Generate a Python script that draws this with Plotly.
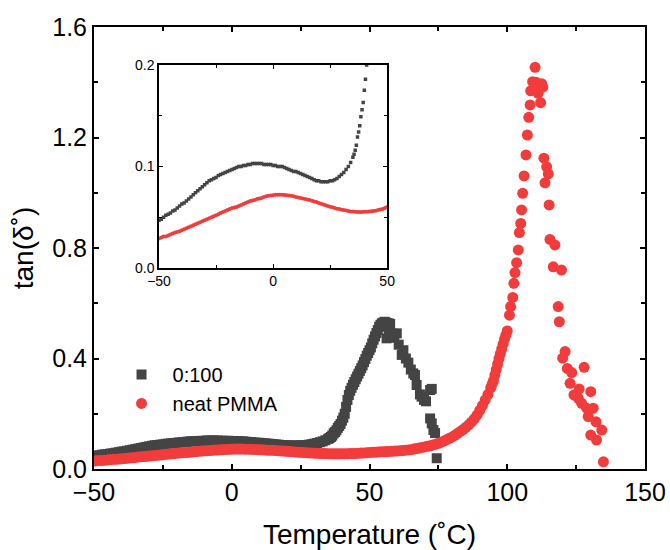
import plotly.graph_objects as go

# ---- data ----
black_T = [-50, -49, -48, -47, -46, -45, -44, -43, -42, -41, -40, -39, -38, -37, -36, -35,
           -34, -33, -32, -31, -30, -29, -28, -27, -26, -25, -24, -23, -22, -21, -20, -19,
           -18, -17, -16, -15, -14, -13, -12, -11, -10, -9, -8, -7, -6, -5, -4, -3, -2, -1,
           0, 1, 2, 3, 4, 5, 6, 7, 8, 9, 10, 11, 12, 13, 14, 15, 16, 17, 18, 19, 20, 21, 22,
           23, 24, 25, 26, 27, 28, 29, 30, 31, 32, 33, 34, 35, 35.5, 36, 36.5, 37, 37.5, 38,
           38.5, 39, 39.5, 40, 40.5, 41, 41.5, 42, 42.5, 43, 43.5, 44, 44.5, 45, 45.5, 46,
           46.5, 47, 47.5, 48, 48.5, 49, 49.5, 50, 50.5, 51, 51.5, 52, 52.5, 53, 53.5, 54,
           54.5, 55, 55.5, 56, 56.5, 57, 57.5,
           56.2, 57.0, 58.5, 59.9, 59.0, 60.6, 61.7, 62.3, 63.2, 64.1, 65.0, 65.9, 66.5, 67.1,
           68.3, 68.9, 69.8, 70.5, 72.0, 72.6, 72.0, 72.6, 73.2, 73.8, 74.4]
black_V = [0.047, 0.048, 0.050, 0.052, 0.053, 0.054, 0.056, 0.057, 0.059, 0.061, 0.063, 0.064,
           0.066, 0.068, 0.070, 0.072, 0.074, 0.076, 0.078, 0.080, 0.082, 0.084, 0.086, 0.087,
           0.088, 0.089, 0.091, 0.092, 0.093, 0.094, 0.095, 0.096, 0.097, 0.098, 0.099, 0.100,
           0.100, 0.101, 0.101, 0.102, 0.102, 0.103, 0.103, 0.103, 0.103, 0.103, 0.102, 0.102,
           0.102, 0.102, 0.101, 0.101, 0.100, 0.100, 0.100, 0.099, 0.098, 0.097, 0.096, 0.095,
           0.095, 0.094, 0.093, 0.092, 0.091, 0.090, 0.089, 0.088, 0.087, 0.086, 0.086, 0.085,
           0.085, 0.085, 0.085, 0.086, 0.086, 0.087, 0.088, 0.090, 0.092, 0.094, 0.097, 0.100,
           0.104, 0.109, 0.112, 0.116, 0.121, 0.129, 0.134, 0.140, 0.149, 0.156, 0.163, 0.175,
           0.186, 0.200, 0.225, 0.250, 0.268, 0.283, 0.294, 0.305, 0.315, 0.325, 0.335, 0.345,
           0.355, 0.365, 0.375, 0.387, 0.398, 0.410, 0.420, 0.430, 0.440, 0.455, 0.468, 0.480,
           0.492, 0.503, 0.515, 0.522, 0.527, 0.530, 0.533, 0.530, 0.528, 0.527, 0.525,
           0.473, 0.500, 0.490, 0.491, 0.475, 0.450, 0.413, 0.430, 0.400, 0.385, 0.360, 0.346,
           0.340, 0.304, 0.270, 0.262, 0.250, 0.245, 0.286, 0.290, 0.183, 0.165, 0.141, 0.130,
           0.039]

red_T = [-50, -49, -48, -47, -46, -45, -44, -43, -42, -41, -40, -39, -38, -37, -36, -35, -34,
         -33, -32, -31, -30, -29, -28, -27, -26, -25, -24, -23, -22, -21, -20, -19, -18, -17,
         -16, -15, -14, -13, -12, -11, -10, -9, -8, -7, -6, -5, -4, -3, -2, -1, 0, 1, 2, 3, 4,
         5, 6, 7, 8, 9, 10, 11, 12, 13, 14, 15, 16, 17, 18, 19, 20, 21, 22, 23, 24, 25, 26, 27,
         28, 29, 30, 31, 32, 33, 34, 35, 36, 37, 38, 39, 40, 41, 42, 43, 44, 45, 46, 47, 48, 49,
         50, 51, 52, 53, 54, 55, 56, 57, 58, 59, 60, 61, 62, 63, 64, 65, 66, 67, 68, 69, 70, 71,
         72, 73, 74, 75, 76, 77, 78, 79, 80, 81, 82, 83, 84, 85, 86, 87, 88, 89, 90, 91, 92, 93,
         94, 94.5, 95, 95.5, 96, 96.5, 97, 97.5, 98, 98.5, 99, 99.5, 100,
         100.8, 101.2, 102.0, 102.4, 102.8, 103.4, 104.0, 104.4, 104.9, 105.2, 105.6, 106.1,
         106.8, 107.3, 107.8, 108.3, 108.5, 109.2, 110.1, 110.4, 110.7, 111.2, 111.5, 111.9,
         112.5, 112.9, 112.1, 113.3, 114.3, 114.9, 113.7, 115.2, 115.5, 117.3, 116.7, 119.7,
         118.5, 118.9, 121.0, 120.1, 121.8, 123.4, 122.8, 127.9, 124.2, 125.8, 126.1, 127.0,
         128.8, 130.3, 131.2, 129.4, 132.2, 134.3, 130.3, 132.4, 134.9]
red_V = [0.029, 0.030, 0.031, 0.031, 0.032, 0.033, 0.034, 0.035, 0.0355, 0.036, 0.037, 0.038,
         0.039, 0.040, 0.041, 0.042, 0.043, 0.044, 0.045, 0.046, 0.047, 0.048, 0.049, 0.050,
         0.051, 0.052, 0.053, 0.054, 0.055, 0.056, 0.057, 0.058, 0.059, 0.0595, 0.060, 0.061,
         0.062, 0.063, 0.064, 0.065, 0.066, 0.0665, 0.067, 0.068, 0.0685, 0.069, 0.070, 0.0705,
         0.071, 0.0713, 0.0716, 0.072, 0.072, 0.072, 0.072, 0.0718, 0.0716, 0.0714, 0.071,
         0.0705, 0.070, 0.0695, 0.069, 0.0683, 0.068, 0.0675, 0.067, 0.0663, 0.0655, 0.065,
         0.064, 0.0633, 0.0625, 0.0617, 0.061, 0.0603, 0.0597, 0.059, 0.0583, 0.058, 0.0573,
         0.057, 0.0565, 0.056, 0.0557, 0.0555, 0.0553, 0.0552, 0.0551, 0.0552, 0.0553, 0.0554,
         0.0556, 0.0558, 0.056, 0.0563, 0.057, 0.0575, 0.058, 0.059, 0.060, 0.0605, 0.061,
         0.0615, 0.062, 0.0625, 0.063, 0.0635, 0.064, 0.065, 0.0655, 0.066, 0.067, 0.068,
         0.069, 0.070, 0.072, 0.074, 0.076, 0.078, 0.080, 0.082, 0.084, 0.087, 0.090, 0.093,
         0.097, 0.101, 0.106, 0.111, 0.116, 0.122, 0.129, 0.136, 0.143, 0.151, 0.160, 0.170,
         0.181, 0.195, 0.212, 0.230, 0.250, 0.270, 0.294, 0.307, 0.320, 0.340, 0.360, 0.380,
         0.400, 0.418, 0.435, 0.452, 0.470, 0.485, 0.500,
         0.557, 0.588, 0.621, 0.672, 0.711, 0.747, 0.793, 0.856, 0.889, 0.938, 0.998, 1.061,
         1.137, 1.209, 1.273, 1.318, 1.369, 1.402, 1.454, 1.400, 1.384, 1.360, 1.375, 1.390,
         1.395, 1.382, 1.326, 1.125, 1.094, 1.068, 1.036, 0.956, 0.831, 0.811, 0.732, 0.720,
         0.588, 0.533, 0.425, 0.401, 0.364, 0.349, 0.310, 0.368, 0.268, 0.256, 0.290, 0.238,
         0.220, 0.280, 0.220, 0.190, 0.171, 0.141, 0.123, 0.105, 0.026]

name_black = "0:100"
name_red = "neat PMMA"
x_title = "Temperature (˚C)"
y_title = "tan(δ˚)"

BLACK = "#444444"
RED = "#f23c3c"
FONT = "Liberation Sans, Arial, sans-serif"

fig = go.Figure()
fig.add_trace(go.Scatter(x=black_T, y=black_V, mode="markers", name=name_black,
                         marker=dict(symbol="square", size=10, color=BLACK),
                         xaxis="x", yaxis="y"))
fig.add_trace(go.Scatter(x=red_T, y=red_V, mode="markers", name=name_red,
                         marker=dict(symbol="circle", size=11, color=RED),
                         xaxis="x", yaxis="y"))
# inset
fig.add_trace(go.Scatter(x=black_T, y=black_V, mode="markers", showlegend=False,
                         marker=dict(symbol="square", size=3.5, color=BLACK),
                         xaxis="x2", yaxis="y2"))
fig.add_trace(go.Scatter(x=red_T, y=red_V, mode="markers", showlegend=False,
                         marker=dict(symbol="circle", size=4, color=RED),
                         xaxis="x2", yaxis="y2"))

ax_common = dict(showline=True, linecolor="black", mirror="ticks", ticks="inside",
                 tickcolor="black", showgrid=False, zeroline=False, automargin=False)

fig.update_layout(
    width=670, height=550,
    margin=dict(l=94, r=25, t=27, b=81),
    paper_bgcolor="white", plot_bgcolor="white",
    font=dict(family=FONT, color="black"),
    xaxis=dict(range=[-50, 150], dtick=50, tick0=-50, linewidth=2, ticklen=5, tickwidth=1.5,
               minor=dict(dtick=25, ticks="inside", ticklen=4, tickcolor="black", tickwidth=1.5),
               tickfont=dict(size=25), title=dict(text=x_title, font=dict(size=28), standoff=24),
               domain=[0, 1], **ax_common),
    yaxis=dict(range=[0, 1.6], dtick=0.4, tick0=0, tickformat=".1f", linewidth=2, ticklen=5,
               tickwidth=1.5,
               minor=dict(dtick=0.2, ticks="inside", ticklen=4, tickcolor="black", tickwidth=1.5),
               tickfont=dict(size=25), title=dict(text=y_title, font=dict(size=28), standoff=10),
               domain=[0, 1], **ax_common),
    xaxis2=dict(range=[-50, 50], dtick=50, tick0=-50, linewidth=1.5, ticklen=4, tickwidth=1,
                minor=dict(dtick=25, ticks="inside", ticklen=3, tickcolor="black", tickwidth=1),
                tickfont=dict(size=14), domain=[0.118, 0.532], anchor="y2", **ax_common),
    yaxis2=dict(range=[0, 0.2], dtick=0.1, tick0=0, tickformat=".1f", linewidth=1.5, ticklen=4,
                tickwidth=1,
                minor=dict(dtick=0.05, ticks="inside", ticklen=3, tickcolor="black", tickwidth=1),
                tickfont=dict(size=14), domain=[0.455, 0.914], anchor="x2", **ax_common),
    legend=dict(x=0.03, y=0.258, xanchor="left", yanchor="top", bgcolor="rgba(0,0,0,0)",
                font=dict(size=20), itemwidth=52, tracegroupgap=0),
)

fig.write_html("out.html")
